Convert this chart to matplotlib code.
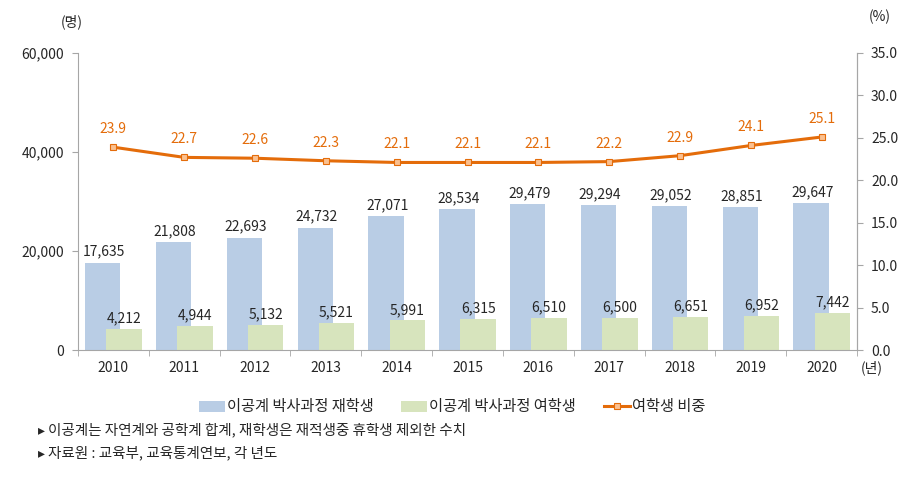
import matplotlib
matplotlib.use("Agg")
import matplotlib.pyplot as plt
import numpy as np
from matplotlib.patches import Patch
from matplotlib.lines import Line2D

plt.rcParams['font.family'] = ['Noto Sans CJK KR', 'DejaVu Sans']

years = ['2010', '2011', '2012', '2013', '2014', '2015', '2016', '2017', '2018', '2019', '2020']
total = [17635, 21808, 22693, 24732, 27071, 28534, 29479, 29294, 29052, 28851, 29647]
female = [4212, 4944, 5132, 5521, 5991, 6315, 6510, 6500, 6651, 6952, 7442]
ratio = [23.9, 22.7, 22.6, 22.3, 22.1, 22.1, 22.1, 22.2, 22.9, 24.1, 25.1]

blue = '#B9CDE5'
green = '#D7E4BD'
orange = '#E46C0A'
mfill = '#FAC090'
grey = '#A6A6A6'
txt = '#262626'

fig = plt.figure(figsize=(9.17, 4.80), dpi=100)
ax = fig.add_axes([0.085, 0.2708, 0.8497, 0.6188])
x = np.arange(len(years))
w = 0.5
off = 0.15
ax.bar(x - off, total, w, color=blue, zorder=1)
ax.bar(x + off, female, w, color=green, zorder=2)
for xi, v in zip(x, total):
    ax.text(xi - off + 0.02, v + 800, f"{v:,}", ha='center', va='bottom', fontsize=10, color=txt)
for xi, v in zip(x, female):
    ax.text(xi + off, v + 700, f"{v:,}", ha='center', va='bottom', fontsize=10, color=txt)

ax.set_xlim(-0.5, len(years) - 0.5)
ax.set_ylim(0, 60000)
ax.set_yticks([0, 20000, 40000, 60000])
ax.set_yticklabels([f"{t:,}" for t in [0, 20000, 40000, 60000]], fontsize=10, color=txt)
ax.set_xticks(x)
ax.set_xticklabels(years, fontsize=10, color=txt)
ax.tick_params(axis='x', length=0, pad=8)
ax.set_xticks(np.arange(-0.5, len(years)), minor=True)
ax.tick_params(axis='x', which='minor', length=4, color=grey, direction='out')
ax.tick_params(axis='y', length=4, color=grey, pad=6)
ax.spines['top'].set_visible(False)
for s in ['left', 'bottom', 'right']:
    ax.spines[s].set_color(grey)

ax2 = ax.twinx()
ax2.set_ylim(0, 35)
ax2.set_yticks(np.arange(0, 35.1, 5))
ax2.set_yticklabels([f"{t:.1f}" for t in np.arange(0, 35.1, 5)], fontsize=10, color=txt)
ax2.tick_params(axis='y', length=4, color=grey, pad=6)
for s in ['top', 'left', 'bottom']:
    ax2.spines[s].set_visible(False)
ax2.spines['right'].set_color(grey)
ax2.plot(x, ratio, color=orange, lw=2.2, marker='s', markersize=5,
         markerfacecolor=mfill, markeredgecolor=orange, markeredgewidth=0.8, zorder=5)
for xi, v in zip(x, ratio):
    ax2.text(xi, v + 1.3, f"{v:.1f}", ha='center', va='bottom', fontsize=10, color=orange)

fig.text(72/917, 1 - 22/480, '(명)', ha='center', va='center', fontsize=10, color=txt)
fig.text(880/917, 1 - 17/480, '(%)', ha='center', va='center', fontsize=10, color=txt)
fig.text(872/917, 1 - 368/480, '(년)', ha='center', va='center', fontsize=10, color=txt)

handles = [Patch(facecolor=blue, edgecolor='none'),
           Patch(facecolor=green, edgecolor='none'),
           Line2D([0], [0], color=orange, lw=2.2, marker='s', markersize=5,
                  markerfacecolor=mfill, markeredgecolor=orange, markeredgewidth=0.8)]
labels = ['이공계 박사과정 재학생', '이공계 박사과정 여학생', '여학생 비중']
fig.legend(handles, labels, loc='center', bbox_to_anchor=(452/917, 1 - 407/480), ncol=3,
           frameon=False, fontsize=11, handlelength=1.7, handletextpad=0.15, columnspacing=1.8,
           labelcolor=txt, borderaxespad=0, borderpad=0)

fig.text(38/917, 1 - 430/480, '▸', ha='left', va='center', fontsize=10, color=txt, family=['DejaVu Sans'])
fig.text(48/917, 1 - 430/480, '이공계는 자연계와 공학계 합계, 재학생은 재적생중 휴학생 제외한 수치',
         ha='left', va='center', fontsize=10.5, color=txt)
fig.text(38/917, 1 - 453/480, '▸', ha='left', va='center', fontsize=10, color=txt, family=['DejaVu Sans'])
fig.text(48/917, 1 - 453/480, '자료원 : 교육부, 교육통계연보, 각 년도',
         ha='left', va='center', fontsize=10.5, color=txt)

fig.savefig('out.png', dpi=100)
